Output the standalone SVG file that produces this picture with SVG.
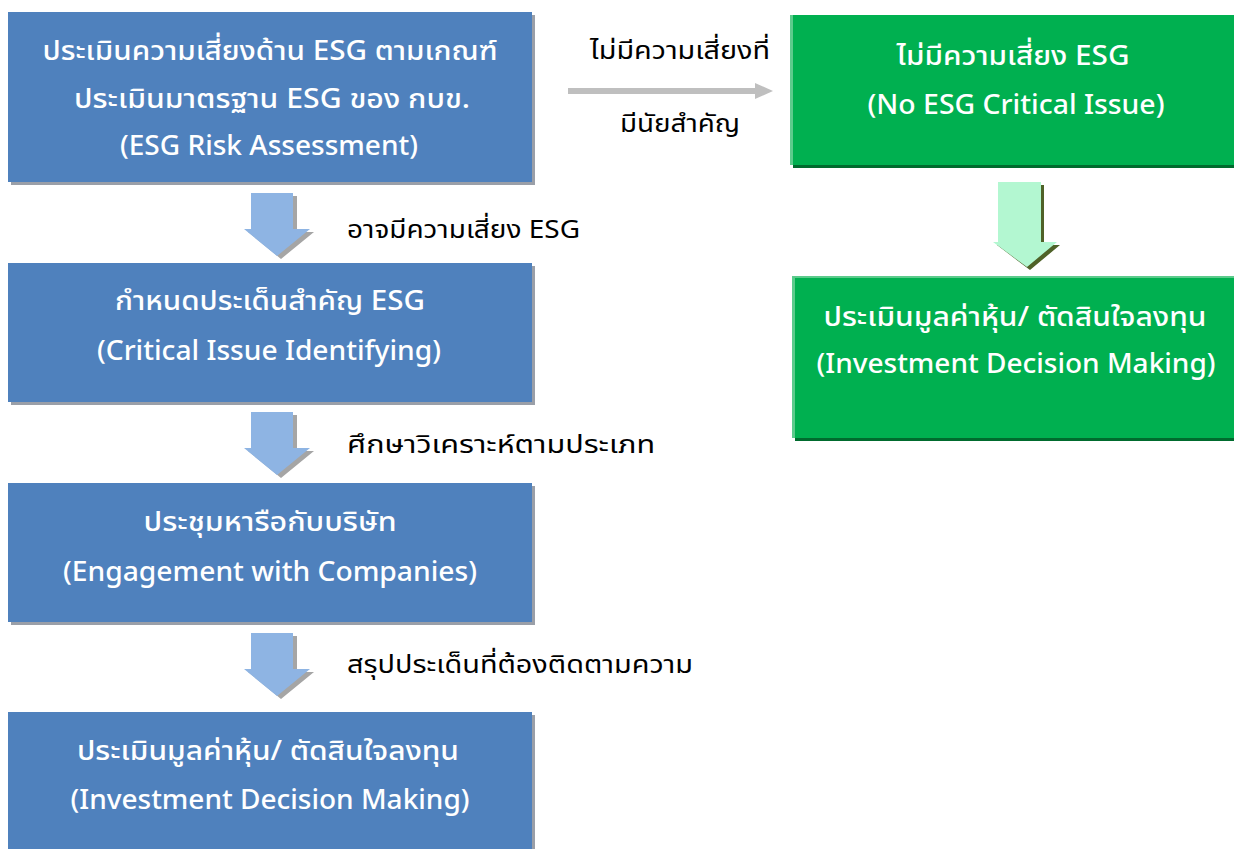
<svg xmlns="http://www.w3.org/2000/svg" width="1234" height="849" viewBox="0 0 1234 849">
<defs>
<style>
.blue{fill:#4F81BD}
.bsh{fill:#9A9FA8}
.green{fill:#00B050}
.gsh{fill:#006B2E}
.gedge{fill:#5CCB8C}
.bt{font-family:"Noto Sans","Noto Sans Thai","Leelawadee UI",Tahoma,"DejaVu Sans",sans-serif;font-size:27px;font-weight:500;fill:#FFFFFF;text-anchor:middle}
.lbl{font-family:"Noto Sans","Noto Sans Thai","Leelawadee UI",Tahoma,"DejaVu Sans",sans-serif;font-size:25px;fill:#000000}
.ba{fill:#8EB4E3}
.bas{fill:#A5A5A5}
.ga{fill:#B3F7D1}
.gas{fill:#4F6228}
</style>
</defs>
<rect width="1234" height="849" fill="#FFFFFF"/>
<g id="connectors">
  <g id="arrow-h">
    <rect x="568" y="88" width="188" height="6" fill="#BFBFBF"/>
    <polygon points="755,83 773,91 755,99" fill="#BFBFBF"/>
  </g>
  <g id="arrow-1">
    <polygon class="bas" points="255,196 297,196 297,232 314,232 281,259 248,232 255,232"/>
    <polygon class="ba" points="251,193 293,193 293,229 310,229 277,256 244,229 251,229"/>
  </g>
  <g id="arrow-2">
    <polygon class="bas" points="255,415 297,415 297,451 314,451 281,478 248,451 255,451"/>
    <polygon class="ba" points="251,412 293,412 293,448 310,448 277,475 244,448 251,448"/>
  </g>
  <g id="arrow-3">
    <polygon class="bas" points="255,636 297,636 297,672 314,672 281,699 248,672 255,672"/>
    <polygon class="ba" points="251,633 293,633 293,669 310,669 277,696 244,669 251,669"/>
  </g>
  <g id="arrow-g">
    <polygon class="gas" points="1002,185 1044,185 1044,245 1060,245 1030,270 997,245 1002,245"/>
    <polygon class="ga" points="998,182 1041,182 1041,242 1057,242 1027,267 993,242 998,242"/>
  </g>
  <text class="lbl" x="347" y="238" textLength="233" lengthAdjust="spacingAndGlyphs">อาจมีความเสี่ยง ESG</text>
  <text class="lbl" x="347" y="453" textLength="308" lengthAdjust="spacingAndGlyphs">ศึกษาวิเคราะห์ตามประเภท</text>
  <text class="lbl" x="347" y="673" textLength="346" lengthAdjust="spacingAndGlyphs">สรุปประเด็นที่ต้องติดตามความ</text>
  <text class="lbl" x="590" y="59" textLength="180" lengthAdjust="spacingAndGlyphs">ไม่มีความเสี่ยงที่</text>
  <text class="lbl" x="620" y="132" textLength="120" lengthAdjust="spacingAndGlyphs">มีนัยสำคัญ</text>
</g>
<g id="node-assess">
  <rect class="bsh" x="11" y="15" width="524" height="170"/>
  <rect class="blue" x="8" y="12" width="524" height="170"/>
  <text class="bt" x="270" y="60" textLength="455" lengthAdjust="spacingAndGlyphs">ประเมินความเสี่ยงด้าน ESG ตามเกณฑ์</text>
  <text class="bt" x="272" y="108" textLength="396" lengthAdjust="spacingAndGlyphs">ประเมินมาตรฐาน ESG ของ กบข.</text>
  <text class="bt" x="269" y="155" textLength="298" lengthAdjust="spacingAndGlyphs">(ESG Risk Assessment)</text>
</g>
<g id="node-critical">
  <rect class="bsh" x="11" y="266" width="524" height="139"/>
  <rect class="blue" x="8" y="263" width="524" height="139"/>
  <text class="bt" x="270" y="310" textLength="310" lengthAdjust="spacingAndGlyphs">กำหนดประเด็นสำคัญ ESG</text>
  <text class="bt" x="269" y="360" textLength="344" lengthAdjust="spacingAndGlyphs">(Critical Issue Identifying)</text>
</g>
<g id="node-engage">
  <rect class="bsh" x="11" y="486" width="524" height="139"/>
  <rect class="blue" x="8" y="483" width="524" height="139"/>
  <text class="bt" x="270" y="531" textLength="253" lengthAdjust="spacingAndGlyphs">ประชุมหารือกับบริษัท</text>
  <text class="bt" x="270" y="581" textLength="414" lengthAdjust="spacingAndGlyphs">(Engagement with Companies)</text>
</g>
<g id="node-invest-blue">
  <rect class="bsh" x="11" y="715" width="524" height="140"/>
  <rect class="blue" x="8" y="712" width="524" height="140"/>
  <text class="bt" x="268" y="760" textLength="382" lengthAdjust="spacingAndGlyphs">ประเมินมูลค่าหุ้น/ ตัดสินใจลงทุน</text>
  <text class="bt" x="270" y="809" textLength="399" lengthAdjust="spacingAndGlyphs">(Investment Decision Making)</text>
</g>
<g id="node-noissue">
  <rect class="gsh" x="793" y="18" width="441" height="150"/>
  <rect class="green" x="790" y="15" width="444" height="150"/>
  <rect class="gedge" x="790" y="15" width="3" height="150"/>
  <text class="bt" x="1013" y="65" textLength="233" lengthAdjust="spacingAndGlyphs">ไม่มีความเสี่ยง ESG</text>
  <text class="bt" x="1016" y="114" textLength="297" lengthAdjust="spacingAndGlyphs">(No ESG Critical Issue)</text>
</g>
<g id="node-invest-green">
  <rect class="gsh" x="795" y="279" width="439" height="162"/>
  <rect class="green" x="792" y="276" width="442" height="162"/>
  <rect class="gedge" x="792" y="276" width="3" height="162"/>
  <rect class="gedge" x="792" y="276" width="442" height="2"/>
  <text class="bt" x="1015" y="326" textLength="383" lengthAdjust="spacingAndGlyphs">ประเมินมูลค่าหุ้น/ ตัดสินใจลงทุน</text>
  <text class="bt" x="1016" y="373" textLength="399" lengthAdjust="spacingAndGlyphs">(Investment Decision Making)</text>
</g>
</svg>
